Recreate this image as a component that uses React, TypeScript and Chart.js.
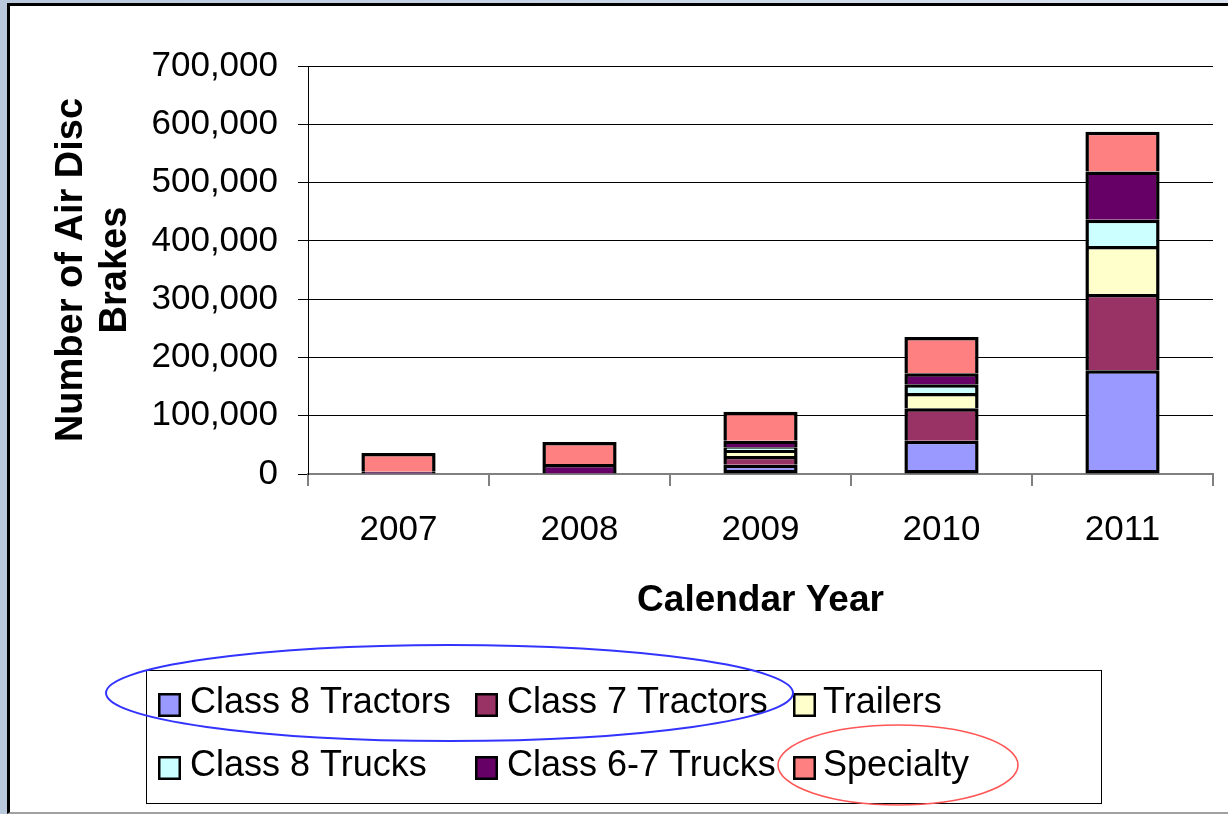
import React, { useEffect, useRef } from 'react';
import { Chart, registerables } from 'chart.js';

Chart.register(...registerables);

const FONT = '"Liberation Sans", Arial, Helvetica, sans-serif';

const categories = ['2007', '2008', '2009', '2010', '2011'];
const class8Tractors = [0, 0, 16000, 57000, 178000];
const class7Tractors = [0, 0, 15000, 56000, 131000];
const trailers = [0, 0, 10000, 26000, 82000];
const class8Trucks = [0, 0, 5000, 15000, 45000];
const class67Trucks = [4000, 17000, 11000, 19000, 83000];
const specialty = [32000, 38000, 50000, 62000, 68000];

const seriesNames = ['Class 8 Tractors', 'Class 7 Tractors', 'Trailers', 'Class 8 Trucks', 'Class 6-7 Trucks', 'Specialty'];
const seriesColors = ['#9999FF', '#993366', '#FFFFCC', '#CCFFFF', '#660066', '#FF8080'];
const seriesValues = [class8Tractors, class7Tractors, trailers, class8Trucks, class67Trucks, specialty];

const yMin = 0;
const yMax = 700000;
const yStep = 100000;
const yAxisTitle = ['Number of Air Disc', 'Brakes'];
const xAxisTitle = 'Calendar Year';

const legendPlugin = {
  id: 'boxLegend',
  afterDraw(chart: any) {
    const ctx = chart.ctx as CanvasRenderingContext2D;
    ctx.save();
    ctx.strokeStyle = '#000';
    ctx.lineWidth = 1;
    ctx.strokeRect(146.5, 670.5, 955, 133);
    const cols = [158, 475, 793];
    const textOff = [32, 32, 30];
    const rows = [703, 766];
    ctx.font = `36px ${FONT}`;
    ctx.textBaseline = 'middle';
    ctx.textAlign = 'left';
    chart.data.datasets.forEach((ds: any, i: number) => {
      const c = i % 3;
      const r = Math.floor(i / 3);
      const bx = cols[c];
      const by = rows[r] - 10;
      ctx.fillStyle = ds.backgroundColor;
      ctx.fillRect(bx, by, 23, 24);
      ctx.lineWidth = 2.5;
      ctx.strokeStyle = '#000';
      ctx.strokeRect(bx + 1.25, by + 1.25, 20.5, 21.5);
      ctx.fillStyle = '#000';
      ctx.fillText(ds.label, bx + textOff[c], rows[r]);
    });
    // annotation ellipses
    ctx.strokeStyle = '#3333FF';
    ctx.lineWidth = 2;
    ctx.beginPath();
    ctx.ellipse(449.5, 693, 343.5, 48, 0, 0, Math.PI * 2);
    ctx.stroke();
    ctx.strokeStyle = '#FF5555';
    ctx.lineWidth = 1.6;
    ctx.beginPath();
    ctx.ellipse(898, 765, 120, 40, 0, 0, Math.PI * 2);
    ctx.stroke();
    ctx.restore();
  },
};

export default function App() {
  const canvasRef = useRef<HTMLCanvasElement | null>(null);

  useEffect(() => {
    if (!canvasRef.current) return;
    const chart = new Chart(canvasRef.current, {
      type: 'bar',
      data: {
        labels: categories,
        datasets: seriesValues.map((vals, i) => ({
          label: seriesNames[i],
          data: vals,
          backgroundColor: seriesColors[i],
          borderColor: '#000',
          borderWidth: 3.5,
          borderSkipped: i === 0 ? false : 'start',
          barPercentage: 0.41,
          categoryPercentage: 1,
        })) as any,
      },
      options: {
        responsive: false,
        animation: false,
        devicePixelRatio: 1,
        layout: { padding: { left: 0, top: 66, right: 15, bottom: 190 } },
        plugins: { legend: { display: false }, tooltip: { enabled: false } },
        scales: {
          x: {
            stacked: true,
            grid: { display: true, drawOnChartArea: false, offset: true, tickLength: 12, color: '#808080', lineWidth: 2 },
            border: { display: true, color: '#808080', width: 2 },
            ticks: { font: { family: FONT, size: 35 }, color: '#000', padding: 23, maxRotation: 0 },
            title: {
              display: true,
              text: xAxisTitle,
              font: { family: FONT, size: 37, weight: 'bold' },
              color: '#000',
              padding: { top: 0, bottom: 1 },
            },
            afterFit: (s: any) => { s.height = 150; },
          },
          y: {
            stacked: true,
            min: yMin,
            max: yMax,
            ticks: {
              stepSize: yStep,
              font: { family: FONT, size: 35 },
              color: '#000',
              padding: 20,
              callback: (v: any) => Number(v).toLocaleString('en-US'),
            },
            grid: { color: '#000', lineWidth: 1, tickLength: 10 },
            border: { color: '#000', width: 1 },
            title: {
              display: true,
              text: yAxisTitle,
              font: { family: FONT, size: 38, weight: 'bold', lineHeight: 1.16 },
              color: '#000',
              padding: { top: 49, bottom: 0 },
            },
            afterFit: (s: any) => { s.width = 308; },
          },
        },
      } as any,
      plugins: [legendPlugin],
    });
    return () => chart.destroy();
  }, []);

  return (
    <div style={{ position: 'fixed', left: 0, top: 0, width: 1228, height: 814, overflow: 'hidden', background: 'linear-gradient(to right, #b9c8dd, #dbe4f0)' }}>
      <div style={{ position: 'absolute', left: 7, top: 3, width: 1240, height: 806, background: '#fff', borderLeft: '3px solid #000', borderTop: '3px solid #000', borderBottom: '2px solid #a0a0a0' }} />
      <canvas ref={canvasRef} width={1228} height={814} style={{ position: 'absolute', left: 0, top: 0, width: 1228, height: 814 }} />
    </div>
  );
}
